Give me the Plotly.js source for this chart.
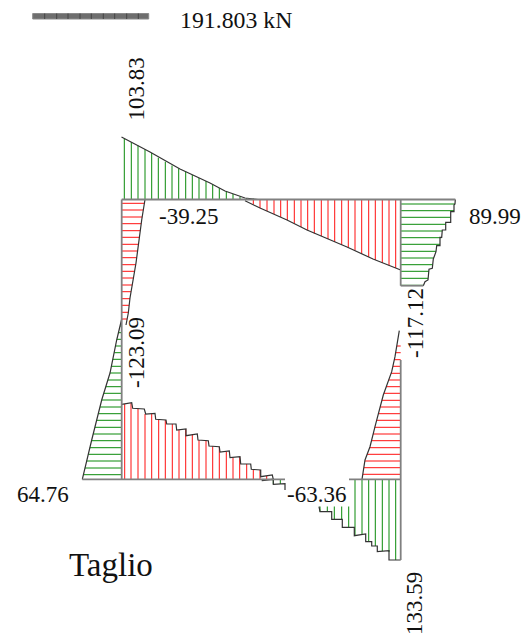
<!DOCTYPE html>
<html><head><meta charset="utf-8">
<script src="https://cdn.plot.ly/plotly-3.0.1.min.js"></script>
<style>html,body{margin:0;padding:0;background:#fff}#c{width:523px;height:635px}</style>
</head><body><div id="c"></div>
<script>
const topBeamY = 199.5, botBeamY = 479.3, leftColX = 121.7, rightColX = 400.7;

// Top beam, positive part
const topPosX = [124.3,131.3,138,145,151.7,158.3,165.3,172,178.7,185.7,192.3,199,206,212.7,219.3,226.3,233,240,246.7,253.3];
const topPosY = [138.5,142,145.5,149.4,153,157.7,161.7,165.5,168.3,171.7,175,178,181,184.5,188,191.5,194,196.5,198,198.6];
const topPosEdgeX = [121.5,150,180,210,225,245,258];
const topPosEdgeY = [137,152,169,183,191,198,199.5];
// Top beam, negative part
const topNegX = [253.3,260,267,274,280.7,287.3,294.3,301,307.7,314.3,321.3,328,334.7,341.7,348.3,355,361.7,368.7,375.3,382.3,389,395.7];
const topNegY = [204.5,208,211,214,217,220,223.5,227,230.3,233.5,236,239,242,245,247.5,250.5,254,257,260,263,265.5,268];
const topNegEdgeX = [245,260,287,307,347,373,400.7];
const topNegEdgeY = [200.7,208,220,230,247,259,270];
// Right column, upper positive part
const rightPosY = [204,210.7,217.3,224.3,231,237.7,244.3,251.3,258,264.7,271.3,278.3,285.3];
const rightPosX = [455,454,450.7,445.7,442.3,441.5,440,436,433.5,432.5,429,428,423.5];
const rightPosEdgeX = [455.3,455,454,454,450.7,450.7,445.7,445.7,442.3,441.7,440,440,436.7,436,433.3,432.3,429,428,425,423.3];
const rightPosEdgeY = [199.5,204,205,211.7,211.7,222.3,222.3,230,230,237.3,237.3,245.7,245.7,251.7,259,268.3,269.3,280,281.7,285.7];
// Right column, lower negative part
const rightNegY = [346,352.7,359.7,366.3,373.3,380,386.7,393.3,400.3,407,413.7,420.3,427.3,434,440.7,447.7,454.3,461,467.7,474.3];
const rightNegX = [397,395.7,394.5,393,391,388.7,386,384,381.8,380,378.5,376.8,374.8,373,371.5,369.5,367,365,364,363];
const rightNegEdgeX = [399.3,395,391.7,383.3,375,370,365,362];
const rightNegEdgeY = [330.7,356.7,371.7,395,426.7,446.7,460,479.3];
// Left column, upper negative part
const leftNegY = [203.3,210,217,223.7,230.7,237.3,244.3,251,257.7,264.7,271.3,278,285,291.7,298.7,305.3,312.3,319];
const leftNegX = [144.5,143.3,142.2,141.2,140.3,139.4,138.5,137.6,136.7,135.7,134.6,133.4,132.2,131,130,129,128.2,127];
const leftNegEdgeX = [145,141.7,136,130,128.3,126];
const leftNegEdgeY = [199.5,220,263,298,313,325];
// Left column, lower positive part
const leftPosY = [326,332.7,339.3,346,352.7,359.3,366.3,373,380,386.7,393.3,400,407,413.7,420.3,427.3,434,440.7,447.7,454.3,461,468,474.7];
const leftPosX = [120,118.4,116.8,115.5,114.2,112.7,111.4,110,107.8,105.8,103.8,101.7,100,98.3,96.6,95,93.2,91.5,89.8,88.2,86.5,84.8,83.2];
const leftPosEdgeX = [121.7,116.7,110,101.7,91.7,82.3];
const leftPosEdgeY = [319,340,373,400,440,479.3];
// Bottom beam, negative part
const botNegX = [124.7,131,138,145,151.7,158.7,165.3,172.3,179,185.7,192.3,199,206,212.7,219.3,226.3,233,239.7,246.7,253.3,260,266.7];
const botNegY = [404,403,408.5,414,413.5,419.5,420,424,429.7,429,434.7,440,440.5,446.3,446.7,451.5,457.5,457,464,469.5,470,476];
const botNegEdgeX = [121.7,131.7,132.7,144.3,145.7,155,155.7,166,166.7,176,176.7,186,186,197.3,198,208.3,209,219.3,220,229.3,230,240,240.7,250.7,251.3,260.7,260.7,272.3,273.3];
const botNegEdgeY = [404.3,402.7,408.3,409,414,413.3,419.3,420,424,424,430,429,435.7,434,440,440.7,446,446.7,452,451,457.7,456.7,464,464,469.3,470,476.7,475,479.3];
// Bottom beam, positive part left of the label
const botPosX = [273.3,280.3];
const botPosY = [484,484];
const botPosEdgeX = [261.7,273.3,273.3,285,285];
const botPosEdgeY = [480.7,479.3,484.3,483.7,490];
// Bottom beam, positive part right of the label
const endPosX = [320,327.3,334.3,341.7,348.7,355,362,368.7,375.3,382.3,389,395.7];
const endPosBase = [506.5,506.5,506.5,506.5,506.5,479.3,479.3,479.3,479.3,479.3,479.3,479.3];
const endPosY = [511.7,511.7,519.3,519.3,527.3,535.7,534.5,541.7,546,551.2,552,560];
const endPosEdgeX = [319,320,325,331.7,331.7,342.3,342.3,354.3,354.3,365.7,365.7,371.7,371.7,377.3,377.3,389,389,400.7];
const endPosEdgeY = [506.7,511.7,511.7,511.7,519.3,519.3,527.3,527.3,535.7,534,541.7,541.7,546,546,551.7,550.7,560,560];

// Scale bar
const scaleX = [32.7,148.7];
const scaleTopY = 13.5, scaleBotY = 19;
const scaleTicks = [44.7,56.7,68,80,91.3,103.3,114.7,126.7,138.3];

// Frame lines
const frameX = [leftColX,455.3,null,rightColX,rightColX,null,leftColX,leftColX,null,rightColX,rightColX,rightColX,null,82.3,285,null,349,rightColX,null,rightColX,423.3];
const frameY = [topBeamY,topBeamY,null,topBeamY,285.7,null,topBeamY,botBeamY,null,360,botBeamY,560,null,botBeamY,botBeamY,null,botBeamY,botBeamY,null,285.7,285.7];

// Labels
const labelText = ['191.803 kN','103.83','-39.25','89.99','-117.12','-123.09','64.76','-63.36','133.59','Taglio'];
const labelX = [235.5,136,188,494.5,415,136,42.5,316.5,414,110.5];
const labelY = [20,89.5,216,216,323,353,494,494,604,565];
const labelAngle = [0,-90,0,0,-90,-90,0,0,-90,0];
const labelSize = [23.8,23,23,23,23,23,23,23,23,33];

function hx(bx, tx, ty){ // horizontal hatches from a column to its edge
  const X=[],Y=[]; ty.forEach((v,i)=>{X.push(bx,tx[i],null);Y.push(v,v,null);}); return {x:X,y:Y};
}
function vx(tx, base, ty){ // vertical hatches from a beam to its edge
  const X=[],Y=[]; tx.forEach((v,i)=>{X.push(v,v,null);Y.push(Array.isArray(base)?base[i]:base,ty[i],null);}); return {x:X,y:Y};
}
function hatch(h,c){return {x:h.x,y:h.y,mode:'lines',line:{color:c,width:1},hoverinfo:'skip',showlegend:false,connectgaps:false};}
function edge(x,y){return {x:x,y:y,mode:'lines',line:{color:'#333',width:1.2},hoverinfo:'skip',showlegend:false};}
const GREEN='#0a8a0a', RED='#ff1010';

const traces = [
  hatch(vx(topPosX,topBeamY,topPosY),GREEN),
  hatch(vx(topNegX,topBeamY,topNegY),RED),
  hatch(hx(rightColX,rightPosX,rightPosY),GREEN),
  hatch(hx(rightColX,rightNegX,rightNegY),RED),
  hatch(hx(leftColX,leftNegX,leftNegY),RED),
  hatch(hx(leftColX,leftPosX,leftPosY),GREEN),
  hatch(vx(botNegX,botBeamY,botNegY),RED),
  hatch(vx(botPosX,botBeamY,botPosY),GREEN),
  hatch(vx(endPosX,endPosBase,endPosY),GREEN),
  edge(topPosEdgeX,topPosEdgeY), edge(topNegEdgeX,topNegEdgeY),
  edge(rightPosEdgeX,rightPosEdgeY), edge(rightNegEdgeX,rightNegEdgeY),
  edge(leftNegEdgeX,leftNegEdgeY), edge(leftPosEdgeX,leftPosEdgeY),
  edge(botNegEdgeX,botNegEdgeY), edge(botPosEdgeX,botPosEdgeY), edge(endPosEdgeX,endPosEdgeY),
  {x:frameX,y:frameY,mode:'lines',line:{color:'#808080',width:1.8},hoverinfo:'skip',showlegend:false},
  {x:[scaleX[0],scaleX[1],scaleX[1],scaleX[0],scaleX[0]],y:[scaleTopY,scaleTopY,scaleBotY,scaleBotY,scaleTopY],mode:'lines',fill:'toself',fillcolor:'#6e6e6e',line:{color:'#8a8a8a',width:1},hoverinfo:'skip',showlegend:false},
  hatch(vx(scaleTicks,scaleTopY,scaleTicks.map(()=>scaleBotY)),'#444')
];

const annotations = labelText.map((t,i)=>({
  text:t,x:labelX[i],y:labelY[i],xref:'x',yref:'y',xanchor:'center',yanchor:'middle',showarrow:false,
  textangle:labelAngle[i],font:{family:'"Liberation Serif",serif',size:labelSize[i],color:'#111'}
}));

Plotly.newPlot('c',traces,{
  width:523,height:635,margin:{l:0,r:0,t:0,b:0},paper_bgcolor:'#fff',plot_bgcolor:'#fff',showlegend:false,
  xaxis:{range:[0,523],visible:false,fixedrange:true},
  yaxis:{range:[635,0],visible:false,fixedrange:true},
  annotations:annotations
},{displayModeBar:false,staticPlot:true});
</script></body></html>
